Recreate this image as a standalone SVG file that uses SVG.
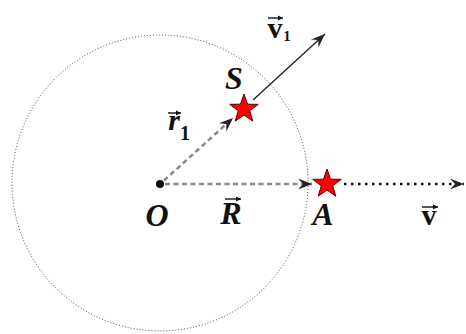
<svg xmlns="http://www.w3.org/2000/svg" width="466" height="334" viewBox="0 0 466 334">
<style>
.lbl{font-family:"Liberation Serif","Times New Roman",serif;font-weight:bold;fill:#111}
.it{font-style:italic}
.big{font-size:32px}
.vv{font-size:30px}
.dash{fill:none;stroke:#888;stroke-width:2.5;stroke-dasharray:5 3.5}
.dot{fill:none;stroke:#111;stroke-width:2.5;stroke-dasharray:2.5 4.5}
.solid{fill:none;stroke:#222;stroke-width:1.4}
.acc{fill:none;stroke:#111;stroke-width:1.4}
.star{fill:#ff0000;stroke:#5a0000;stroke-width:1}
</style>
<defs>
<marker id="ah" viewBox="-15 -7 16 14" refX="0" refY="0" markerWidth="16" markerHeight="14" orient="auto" markerUnits="userSpaceOnUse">
<path d="M0,0 L-14,-5.5 L-9,0 L-14,5.5 Z" fill="#222"/>
</marker>
<marker id="sa" viewBox="-5 -3 6 6" refX="0" refY="0" markerWidth="6" markerHeight="6" orient="auto" markerUnits="userSpaceOnUse">
<path d="M0,0 L-5,-2.5 L-5,2.5 Z" fill="#111"/>
</marker>
<path id="starShape" d="M0,-15 L3.53,-4.85 L14.27,-4.64 L5.71,1.85 L8.82,12.14 L0,6 L-8.82,12.14 L-5.71,1.85 L-14.27,-4.64 L-3.53,-4.85 Z"/>
</defs>
<rect width="466" height="334" fill="#fff"/>
<g id="orbit">
<circle cx="160" cy="183" r="148" fill="none" stroke="#444" stroke-width="1" stroke-dasharray="1 2"/>
</g>
<g id="connectors">
<line class="dash" x1="164" y1="180.5" x2="233" y2="118" marker-end="url(#ah)"/>
<line class="dash" x1="165" y1="184" x2="312" y2="184" marker-end="url(#ah)"/>
<line class="solid" x1="253" y1="100" x2="325" y2="34" marker-end="url(#ah)"/>
<line class="dot" x1="344" y1="184" x2="464" y2="184" marker-end="url(#ah)"/>
</g>
<g id="O">
<circle cx="160" cy="184" r="4" fill="#111"/>
<text class="lbl it big" x="157" y="226" text-anchor="middle">O</text>
</g>
<g id="S">
<use href="#starShape" class="star" transform="translate(244,109)"/>
<text class="lbl it big" x="234" y="89" text-anchor="middle">S</text>
</g>
<g id="A">
<use href="#starShape" class="star" transform="translate(327,184)"/>
<text class="lbl it big" x="323" y="225" text-anchor="middle">A</text>
</g>
<g id="label-R">
<text class="lbl it big" x="231" y="224" text-anchor="middle">R</text>
<line class="acc" x1="225" y1="199" x2="241" y2="199" marker-end="url(#sa)"/>
</g>
<g id="label-r1">
<text class="lbl it vv" x="174" y="130" text-anchor="middle">r</text>
<text class="lbl" x="185" y="140" text-anchor="middle" font-size="20">1</text>
<line class="acc" x1="168" y1="113" x2="181" y2="113" marker-end="url(#sa)"/>
</g>
<g id="label-v1">
<text class="lbl vv" x="275" y="38" text-anchor="middle">v</text>
<text class="lbl" x="287" y="41" text-anchor="middle" font-size="15">1</text>
<line class="acc" x1="268" y1="18" x2="283" y2="18" marker-end="url(#sa)"/>
</g>
<g id="label-v">
<text class="lbl vv" x="429" y="225" text-anchor="middle">v</text>
<line class="acc" x1="422" y1="207" x2="438" y2="207" marker-end="url(#sa)"/>
</g>
</svg>
